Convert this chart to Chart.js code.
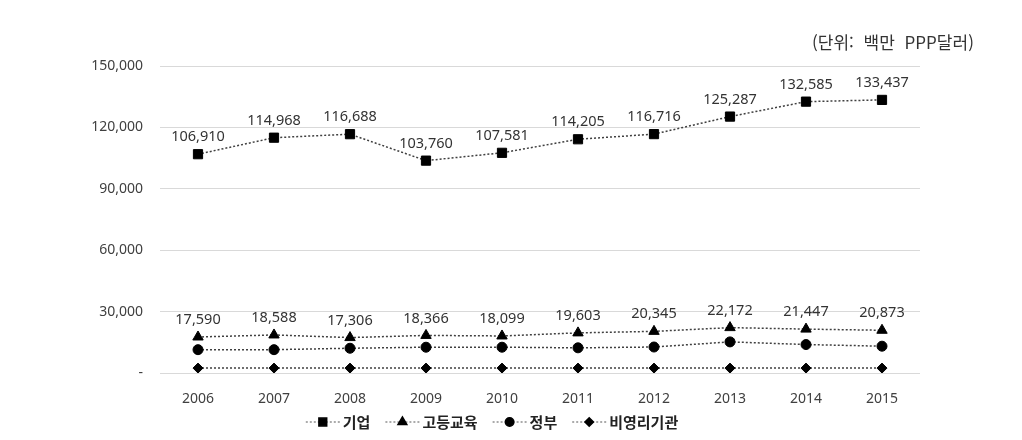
<!DOCTYPE html>
<html lang="ko">
<head>
<meta charset="utf-8">
<script src="https://cdn.jsdelivr.net/npm/chart.js@4.4.1/dist/chart.umd.min.js"></script>
<style>
  body { margin: 0; background: #fff; }
  #wrap { position: relative; width: 1022px; height: 440px; }
  #unit { position: absolute; left: 812px; top: 29px; font: 17px 'Noto Sans CJK KR', sans-serif; color: #333; word-spacing: 5px; white-space: nowrap; }
</style>
</head>
<body>
<div id="wrap">
  <canvas id="c" width="1022" height="440"></canvas>
  <div id="unit">(단위: 백만 PPP달러)</div>
</div>
<script>
// 데이터
const years = ['2006', '2007', '2008', '2009', '2010', '2011', '2012', '2013', '2014', '2015'];
const business = [106910, 114968, 116688, 103760, 107581, 114205, 116716, 125287, 132585, 133437];
const higherEdu = [17590, 18588, 17306, 18366, 18099, 19603, 20345, 22172, 21447, 20873];
const government = [11400, 11400, 12100, 12600, 12600, 12300, 12700, 15200, 13900, 13100];
const nonProfit = [2400, 2400, 2400, 2400, 2400, 2400, 2400, 2400, 2400, 2400];
const seriesNames = ['기업', '고등교육', '정부', '비영리기관'];
const yTicks = [0, 30000, 60000, 90000, 120000, 150000];

const fmt = v => v.toLocaleString('en-US');
const numFont = "'Noto Sans', 'Open Sans', sans-serif";
const krFont = "'Noto Sans CJK KR', sans-serif";

// 값 라벨 (기업, 고등교육만)
const valueLabels = {
  id: 'valueLabels',
  afterDatasetsDraw(chart) {
    const ctx = chart.ctx;
    ctx.save();
    ctx.font = '14.5px ' + numFont;
    ctx.fillStyle = '#333';
    ctx.textAlign = 'center';
    ctx.textBaseline = 'middle';
    [0, 1].forEach(i => {
      const meta = chart.getDatasetMeta(i);
      meta.data.forEach((pt, j) => {
        ctx.fillText(fmt(chart.data.datasets[i].data[j]), pt.x, pt.y - 17);
      });
    });
    ctx.restore();
  }
};

// 범례 (점선 + 마커)
const lineLegend = {
  id: 'lineLegend',
  afterDraw(chart) {
    const ctx = chart.ctx;
    const y = 422, seg = 34, gap = 3, space = 15;
    ctx.save();
    ctx.font = 'bold 15px ' + krFont;
    const ds = chart.data.datasets;
    const widths = ds.map(d => seg + gap + ctx.measureText(d.label).width);
    const total = widths.reduce((a, b) => a + b, 0) + space * (ds.length - 1);
    let x = 492 - total / 2;
    ds.forEach((d, i) => {
      ctx.strokeStyle = '#909090';
      ctx.lineWidth = 1.5;
      ctx.setLineDash([2, 2]);
      ctx.beginPath();
      ctx.moveTo(x, y);
      ctx.lineTo(x + seg, y);
      ctx.stroke();
      ctx.setLineDash([]);
      ctx.fillStyle = '#000';
      ctx.strokeStyle = '#000';
      Chart.helpers.drawPoint(ctx, {
        pointStyle: d.pointStyle, radius: d.pointRadius * 0.85, borderWidth: 1, rotation: 0
      }, x + seg / 2, y);
      ctx.fillStyle = '#222';
      ctx.textBaseline = 'middle';
      ctx.textAlign = 'left';
      ctx.fillText(d.label, x + seg + gap, y);
      x += widths[i] + space;
    });
    ctx.restore();
  }
};

function series(label, data, style, radius) {
  return {
    label, data,
    borderColor: '#404040',
    borderWidth: 1.5,
    borderDash: [2, 2],
    pointStyle: style,
    pointRadius: radius,
    pointBackgroundColor: '#000',
    pointBorderColor: '#000',
    pointBorderWidth: 1,
    tension: 0,
    fill: false
  };
}

new Chart(document.getElementById('c'), {
  type: 'line',
  data: {
    labels: years,
    datasets: [
      series(seriesNames[0], business, 'rect', 6.5),
      series(seriesNames[1], higherEdu, 'triangle', 6),
      series(seriesNames[2], government, 'circle', 5),
      series(seriesNames[3], nonProfit, 'rectRot', 5)
    ]
  },
  options: {
    responsive: false,
    animation: false,
    devicePixelRatio: 1,
    layout: { padding: { top: 66, right: 102, left: 0, bottom: 0 } },
    plugins: { legend: { display: false }, tooltip: { enabled: false } },
    scales: {
      x: {
        offset: true,
        grid: { display: false },
        border: { display: false },
        ticks: { color: '#404040', font: { size: 14, family: numFont }, padding: 10 },
        afterFit(s) { s.height = 67; }
      },
      y: {
        min: 0,
        max: 150000,
        afterBuildTicks(s) { s.ticks = yTicks.map(v => ({ value: v })); },
        grid: { color: '#d9d9d9', drawTicks: false },
        border: { display: false },
        ticks: {
          color: '#404040',
          font: { size: 14, family: numFont },
          padding: 17,
          callback: v => v === 0 ? '-' : fmt(v)
        },
        afterFit(s) { s.width = 160; }
      }
    }
  },
  plugins: [valueLabels, lineLegend]
});
</script>
</body>
</html>
